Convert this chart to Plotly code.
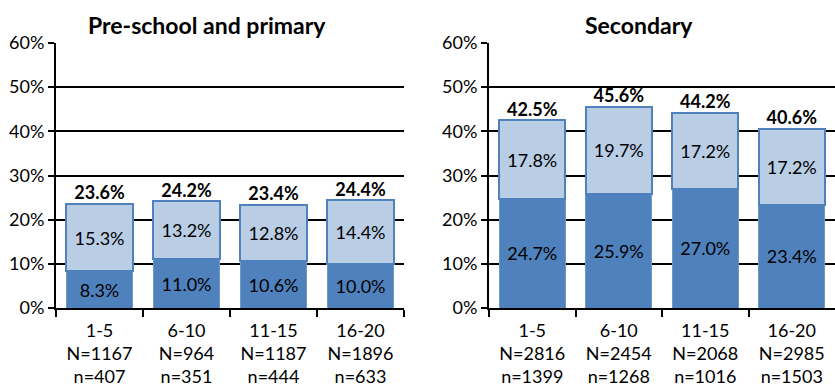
import plotly.graph_objects as go

# Years-of-service bands and sample sizes
bands = ["1-5", "6-10", "11-15", "16-20"]
primary_N = [1167, 964, 1187, 1896]
primary_n = [407, 351, 444, 633]
secondary_N = [2816, 2454, 2068, 2985]
secondary_n = [1399, 1268, 1016, 1503]

# Stacked shares (%): lower (dark) and upper (light) segments
primary_dark = [8.3, 11.0, 10.6, 10.0]
primary_light = [15.3, 13.2, 12.8, 14.4]
secondary_dark = [24.7, 25.9, 27.0, 23.4]
secondary_light = [17.8, 19.7, 17.2, 17.2]

panel_titles = ["Pre-school and primary", "Secondary"]

DARK = "#4F81BD"
LIGHT = "#B9CDE5"
FONT = "Lato, Open Sans, sans-serif"

W, H = 835, 387


def tick_labels(Ns, ns):
    return [f"{b}<br>N={N}<br>n={n}" for b, N, n in zip(bands, Ns, ns)]


fig = go.Figure()

panels = [
    ("x", "y", primary_dark, primary_light, primary_N, primary_n),
    ("x2", "y2", secondary_dark, secondary_light, secondary_N, secondary_n),
]

for xa, ya, dark, light, Ns, ns in panels:
    totals = [round(d + l, 1) for d, l in zip(dark, light)]
    fig.add_trace(go.Bar(
        x=bands, y=dark, xaxis=xa, yaxis=ya,
        marker=dict(color=DARK, line=dict(color="#6F98CB", width=1)),
        text=[f"{v:.1f}%" for v in dark], textposition="inside",
        insidetextanchor="middle", textangle=0,
        textfont=dict(family=FONT, size=18, color="black"),
        showlegend=False, hoverinfo="skip",
    ))
    fig.add_trace(go.Bar(
        x=bands, y=light, xaxis=xa, yaxis=ya,
        marker=dict(color=LIGHT, line=dict(color=DARK, width=2)),
        text=[f"{v:.1f}%" for v in light], textposition="inside",
        insidetextanchor="middle", textangle=0,
        textfont=dict(family=FONT, size=18, color="black"),
        showlegend=False, hoverinfo="skip",
    ))
    fig.add_trace(go.Scatter(
        x=bands, y=totals, xaxis=xa, yaxis=ya, mode="text",
        text=[f"<b>{v:.1f}%</b>" for v in totals], textposition="top center",
        textfont=dict(family=FONT, size=18, color="black"),
        cliponaxis=False, showlegend=False, hoverinfo="skip",
    ))

y_bottom = (H - 308) / H
y_top = (H - 43) / H

common_x = dict(
    type="category", showgrid=False, showline=True, linecolor="black",
    linewidth=2, ticks="outside", tickson="boundaries", ticklen=7,
    tickwidth=2, tickcolor="black", automargin=False, range=[-0.5, 3.5],
    tickfont=dict(family=FONT, size=18, color="black"), tickmode="array",
    tickvals=bands, ticklabelstandoff=5,
)
common_y = dict(
    range=[0, 60], dtick=10, ticksuffix="%", showgrid=True,
    gridcolor="black", gridwidth=2, showline=True, linecolor="black",
    linewidth=2, ticks="outside", ticklen=6, tickwidth=2,
    tickcolor="black", zeroline=False, automargin=False,
    tickfont=dict(family=FONT, size=18, color="black"),
    domain=[y_bottom, y_top],
)

x1_dom = [56 / W, 404 / W]
x2_dom = [489 / W, 1.0]

fig.update_layout(
    width=W, height=H,
    margin=dict(l=0, r=0, t=0, b=0),
    paper_bgcolor="white", plot_bgcolor="white",
    barmode="stack", bargap=0.24,
    xaxis=dict(common_x, domain=x1_dom, anchor="y",
               ticktext=tick_labels(primary_N, primary_n)),
    yaxis=dict(common_y, anchor="x"),
    xaxis2=dict(common_x, domain=x2_dom, anchor="y2",
                ticktext=tick_labels(secondary_N, secondary_n)),
    yaxis2=dict(common_y, anchor="x2"),
    annotations=[
        dict(text=f"<b>{panel_titles[0]}</b>", xref="paper", yref="paper",
             x=207 / W, y=(H - 25) / H, xanchor="center", yanchor="middle",
             showarrow=False, font=dict(family=FONT, size=23, color="black")),
        dict(text=f"<b>{panel_titles[1]}</b>", xref="paper", yref="paper",
             x=639 / W, y=(H - 25) / H, xanchor="center", yanchor="middle",
             showarrow=False, font=dict(family=FONT, size=23, color="black")),
    ],
)

fig.write_html("out.html")
